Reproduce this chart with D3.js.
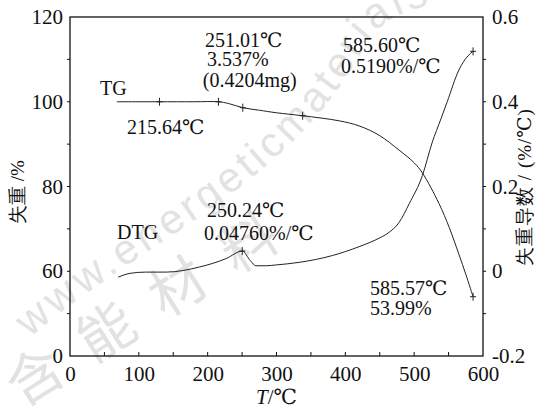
<!DOCTYPE html>
<html>
<head>
<meta charset="utf-8">
<script src="https://cdn.jsdelivr.net/npm/d3@7"></script>
<style>
  body { margin: 0; background: #fff; }
  svg { display: block; }
  text { font-family: "Liberation Serif", "DejaVu Serif", serif; fill: #111; }
</style>
</head>
<body>
<script>
const width = 551;
const height = 412;

// TG curve (mass %, left axis)
const tgTemp = [68, 100, 130, 180, 215.64, 230, 251.01, 275, 300, 338, 391, 420, 449, 478, 500, 512, 536, 551, 565, 575, 585.57];
const tgMass = [100, 100, 100, 100, 100, 99.6, 98.6, 98.0, 97.4, 96.7, 95.5, 94.3, 92.1, 88.6, 85.6, 83.2, 76.0, 70.3, 64.0, 59.3, 53.99];

// DTG curve (%/℃, right axis)
const dtgTemp = [70, 87, 110, 140, 188, 227, 250.24, 262, 270, 285, 300, 333, 381, 420, 449, 462, 478, 493, 512, 526, 539, 548, 565, 578, 585.6];
const dtgRate = [-0.014, -0.005, -0.002, -0.002, 0.01, 0.03, 0.0476, 0.025, 0.013, 0.013, 0.015, 0.021, 0.037, 0.058, 0.078, 0.09, 0.115, 0.16, 0.226, 0.303, 0.36, 0.40, 0.475, 0.508, 0.519];

// marked points
const tgMarks = [130, 215.64, 251.01, 338, 585.57];
const dtgMarks = [250.24, 585.6];

// ticks
const xTicks = [0, 100, 200, 300, 400, 500, 600];
const leftTicks = [40, 60, 80, 100, 120];
const leftTickLabels = ["0", "60", "80", "100", "120"];
const rightTicks = [-0.2, 0, 0.2, 0.4, 0.6];
const rightTickLabels = ["-0.2", "0", "0.2", "0.4", "0.6"];

// annotations: [text, T, value, axis]
const notes = [
  ["TG", 43.6, 101.6, "L"],
  ["215.64℃", 82.8, 92.4, "L"],
  ["251.01℃", 196, 112.9, "L"],
  ["3.537%", 199, 108.4, "L"],
  ["(0.4204mg)", 193, 103.5, "L"],
  ["585.60℃", 396.6, 111.7, "L"],
  ["0.5190%/℃", 393.7, 106.8, "L"],
  ["DTG", 68.3, 0.076, "R"],
  ["250.24℃", 199, 0.128, "R"],
  ["0.04760%/℃", 194.7, 0.074, "R"],
  ["585.57℃", 435.8, 54.4, "L"],
  ["53.99%", 435.8, 49.7, "L"]
];

const svg = d3.select("body").append("svg")
    .attr("width", width)
    .attr("height", height);

const x = d3.scaleLinear().domain([0, 600]).range([70, 483]);
const yL = d3.scaleLinear().domain([40, 120]).range([356, 17]);
const yR = d3.scaleLinear().domain([-0.2, 0.6]).range([356, 17]);

// faint watermark behind the chart
svg.append("path")
    .attr("id", "wm")
    .attr("d", "M30,338 C140,240 290,190 368,40 C390,12 420,2 520,-10")
    .attr("fill", "none");
svg.append("text")
    .attr("font-size", 42)
    .attr("letter-spacing", 4)
    .style("font-family", "Liberation Sans")
    .style("fill", "#e2e2e2")
    .append("textPath")
    .attr("href", "#wm")
    .text("www.energeticmaterials");
svg.append("text")
    .attr("transform", "translate(22,408) rotate(-32)")
    .attr("font-size", 56)
    .attr("letter-spacing", 28)
    .style("font-family", "Noto Sans CJK SC")
    .style("fill", "#e2e2e2")
    .text("含能材料");

// frame
svg.append("rect")
    .attr("x", x(0)).attr("y", yL(120))
    .attr("width", x(600) - x(0)).attr("height", yL(40) - yL(120))
    .attr("fill", "none").attr("stroke", "#111").attr("stroke-width", 1.3);

// axes
const fs = 21;
const gx = svg.append("g").attr("transform", `translate(0,${yL(40)})`)
    .call(d3.axisBottom(x).tickValues(xTicks).tickSize(0).tickPadding(10).tickFormat(d3.format("d")));
gx.append("g").selectAll("line").data(d3.range(50, 600, 50)).join("line")
    .attr("x1", d => x(d)).attr("x2", d => x(d)).attr("y1", 0).attr("y2", -4)
    .attr("stroke", "#111");

const gl = svg.append("g").attr("transform", `translate(${x(0)},0)`)
    .call(d3.axisLeft(yL).tickValues(leftTicks).tickSize(0).tickPadding(7)
      .tickFormat((d, i) => leftTickLabels[i]));
gl.append("g").selectAll("line").data(d3.range(50, 120, 10)).join("line")
    .attr("y1", d => yL(d)).attr("y2", d => yL(d)).attr("x1", 0).attr("x2", -3)
    .attr("stroke", "#111");

const gr = svg.append("g").attr("transform", `translate(${x(600)},0)`)
    .call(d3.axisRight(yR).tickValues(rightTicks).tickSize(0).tickPadding(9)
      .tickFormat((d, i) => rightTickLabels[i]));
gr.append("g").selectAll("line").data(d3.range(-0.1, 0.6, 0.1)).join("line")
    .attr("y1", d => yR(d)).attr("y2", d => yR(d)).attr("x1", 0).attr("x2", 3)
    .attr("stroke", "#111");

[gx, gl, gr].forEach(g => {
  g.attr("font-family", null);
  g.select(".domain").remove();
  g.selectAll(".tick text")
    .attr("font-size", fs)
    .style("font-family", "Liberation Serif")
    .attr("fill", "#111");
});

// curves
const tgData = tgTemp.map((t, i) => ({ t, v: tgMass[i] }));
const dtgData = dtgTemp.map((t, i) => ({ t, v: dtgRate[i] }));

svg.append("path")
    .datum(tgData)
    .attr("d", d3.line().x(d => x(d.t)).y(d => yL(d.v)).curve(d3.curveCatmullRom.alpha(0.5)))
    .attr("fill", "none").attr("stroke", "#222").attr("stroke-width", 1);

svg.append("path")
    .datum(dtgData)
    .attr("d", d3.line().x(d => x(d.t)).y(d => yR(d.v)).curve(d3.curveMonotoneX))
    .attr("fill", "none").attr("stroke", "#222").attr("stroke-width", 1);

// markers
function markAt(t, data, y) {
  const i = d3.bisector(d => d.t).left(data, t);
  const a = data[Math.max(0, i - 1)], b = data[Math.min(data.length - 1, i)];
  const k = b.t === a.t ? 0 : (t - a.t) / (b.t - a.t);
  const py = y(a.v + k * (b.v - a.v));
  svg.append("line")
      .attr("x1", x(t)).attr("x2", x(t)).attr("y1", py - 4).attr("y2", py + 4)
      .attr("stroke", "#222").attr("stroke-width", 1);
  svg.append("line")
      .attr("x1", x(t) - 3).attr("x2", x(t) + 3).attr("y1", py).attr("y2", py)
      .attr("stroke", "#222").attr("stroke-width", 1);
}
tgMarks.forEach(t => markAt(t, tgData, yL));
dtgMarks.forEach(t => markAt(t, dtgData, yR));

// annotations
svg.append("g").selectAll("text").data(notes).join("text")
    .attr("x", d => x(d[1]))
    .attr("y", d => (d[3] === "L" ? yL : yR)(d[2]))
    .attr("font-size", 20)
    .text(d => d[0]);

// axis titles
svg.append("text")
    .attr("transform", "translate(24,192) rotate(-90)")
    .attr("text-anchor", "middle")
    .attr("font-size", 19)
    .text("失重 /%");

svg.append("text")
    .attr("transform", "translate(531,187) rotate(-90)")
    .attr("text-anchor", "middle")
    .attr("font-size", 19)
    .attr("letter-spacing", 1)
    .text("失重导数 / (%/℃)");

const xt = svg.append("text")
    .attr("x", x(300))
    .attr("y", 404)
    .attr("text-anchor", "middle")
    .attr("font-size", 21);
xt.append("tspan").attr("font-style", "italic").text("T");
xt.append("tspan").text("/℃");
</script>
</body>
</html>
